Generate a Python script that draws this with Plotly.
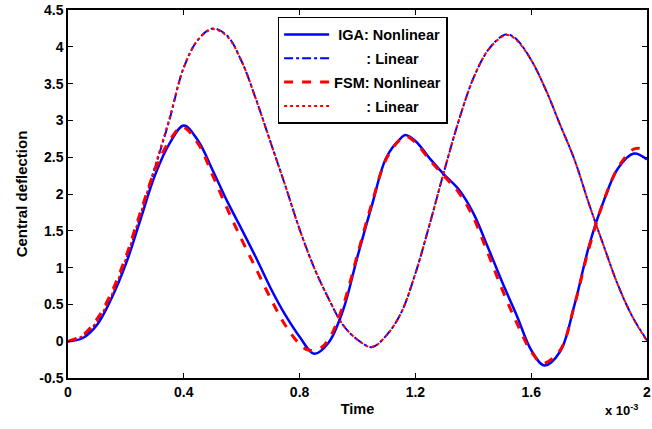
import plotly.graph_objects as go

# ---- data (time in units of 1e-3) ----
t_iga_nl = [0, 0.05, 0.10, 0.15, 0.20, 0.25, 0.30, 0.35, 0.40, 0.45, 0.50, 0.55, 0.60, 0.65, 0.70, 0.75,
            0.80, 0.85, 0.90, 0.95, 1.00, 1.05, 1.10, 1.15, 1.165, 1.20, 1.25, 1.30, 1.35, 1.40, 1.45, 1.50,
            1.55, 1.60, 1.645, 1.70, 1.75, 1.80, 1.85, 1.90, 1.955, 2.00]
y_iga_nl = [0, 0.04, 0.22, 0.58, 1.05, 1.65, 2.25, 2.68, 2.93, 2.72, 2.32, 1.90, 1.52, 1.13, 0.72, 0.36,
            0.06, -0.17, -0.02, 0.42, 1.15, 1.85, 2.50, 2.76, 2.80, 2.72, 2.48, 2.26, 2.06, 1.74, 1.28, 0.80,
            0.35, -0.12, -0.33, -0.14, 0.50, 1.30, 1.90, 2.35, 2.55, 2.47]

t_iga_lin = [0, 0.05, 0.10, 0.15, 0.20, 0.25, 0.30, 0.35, 0.40, 0.45, 0.50, 0.55, 0.60, 0.65, 0.70, 0.75,
             0.80, 0.85, 0.90, 0.95, 1.00, 1.05, 1.10, 1.15, 1.20, 1.25, 1.30, 1.35, 1.40, 1.45, 1.50, 1.52,
             1.55, 1.60, 1.65, 1.70, 1.75, 1.80, 1.85, 1.90, 1.95, 2.00]
y_iga_lin = [0, 0.06, 0.25, 0.60, 1.10, 1.70, 2.35, 3.00, 3.72, 4.10, 4.25, 4.15, 3.80, 3.28, 2.70, 2.12,
             1.52, 1.00, 0.58, 0.22, 0.02, -0.08, 0.08, 0.38, 0.92, 1.60, 2.32, 3.00, 3.57, 3.95, 4.15, 4.17,
             4.10, 3.82, 3.42, 2.94, 2.46, 1.86, 1.30, 0.76, 0.33, 0.01]

t_fsm_nl = [0, 0.05, 0.10, 0.15, 0.20, 0.25, 0.30, 0.35, 0.395, 0.45, 0.50, 0.55, 0.60, 0.65, 0.70, 0.75,
            0.80, 0.83, 0.87, 0.90, 0.95, 1.00, 1.05, 1.10, 1.15, 1.17, 1.20, 1.25, 1.30, 1.35, 1.40, 1.45,
            1.50, 1.55, 1.60, 1.64, 1.70, 1.75, 1.80, 1.85, 1.90, 1.95, 1.97, 2.00]
y_fsm_nl = [0, 0.08, 0.30, 0.66, 1.15, 1.75, 2.32, 2.72, 2.91, 2.68, 2.25, 1.80, 1.38, 0.98, 0.58, 0.22,
            -0.04, -0.12, -0.10, 0.02, 0.48, 1.18, 1.88, 2.48, 2.75, 2.78, 2.70, 2.46, 2.24, 2.02, 1.68, 1.20,
            0.70, 0.25, -0.14, -0.30, -0.12, 0.50, 1.27, 1.90, 2.36, 2.60, 2.62, 2.58]

t_fsm_lin = [0, 0.05, 0.10, 0.15, 0.20, 0.25, 0.30, 0.35, 0.40, 0.45, 0.50, 0.55, 0.60, 0.65, 0.70, 0.75,
             0.80, 0.85, 0.90, 0.95, 1.00, 1.05, 1.10, 1.15, 1.20, 1.25, 1.30, 1.35, 1.40, 1.45, 1.50, 1.52,
             1.55, 1.60, 1.65, 1.70, 1.75, 1.80, 1.85, 1.90, 1.95, 2.00]
y_fsm_lin = [0, 0.07, 0.27, 0.62, 1.12, 1.72, 2.37, 3.02, 3.72, 4.10, 4.24, 4.14, 3.80, 3.28, 2.70, 2.12,
             1.52, 1.00, 0.58, 0.22, 0.02, -0.08, 0.08, 0.38, 0.92, 1.60, 2.32, 3.00, 3.57, 3.95, 4.14, 4.16,
             4.09, 3.82, 3.42, 2.94, 2.46, 1.86, 1.30, 0.76, 0.33, 0.00]

x_tickvals = [0, 0.4, 0.8, 1.2, 1.6, 2]
x_ticktext = ["0", "0.4", "0.8", "1.2", "1.6", "2"]
y_tickvals = [-0.5, 0, 0.5, 1, 1.5, 2, 2.5, 3, 3.5, 4, 4.5]
y_ticktext = ["-0.5", "0", "0.5", "1", "1.5", "2", "2.5", "3", "3.5", "4", "4.5"]

NB = "\u00a0"
names = [NB + "IGA: Nonlinear", NB * 8 + ": Linear", "FSM: Nonlinear", NB * 8 + ": Linear"]

FONT = "Liberation Sans, Arial, sans-serif"

fig = go.Figure()
fig.add_trace(go.Scatter(x=t_iga_nl, y=y_iga_nl, mode="lines", name=names[0], line_shape="spline",
                         legendgroup="g1", line=dict(color="#0000ff", width=2.5, dash="solid")))
fig.add_trace(go.Scatter(x=t_iga_lin, y=y_iga_lin, mode="lines", name=names[1], line_shape="spline",
                         legendgroup="g2", line=dict(color="#0000ff", width=2, dash="dashdot")))
fig.add_trace(go.Scatter(x=t_fsm_nl, y=y_fsm_nl, mode="lines", name=names[2], line_shape="spline",
                         legendgroup="g3", line=dict(color="#ff0000", width=3, dash="dash")))
fig.add_trace(go.Scatter(x=t_fsm_lin, y=y_fsm_lin, mode="lines", name=names[3], line_shape="spline",
                         legendgroup="g4", line=dict(color="#ff0000", width=2, dash="dot")))

axis_common = dict(showgrid=False, zeroline=False, showline=True, linecolor="black", linewidth=1.5,
                   mirror="ticks", ticks="inside", ticklen=5, tickcolor="black", tickwidth=1,
                   tickfont=dict(family=FONT, size=14, color="black", weight="bold"))

fig.update_xaxes(range=[0, 2], tickvals=x_tickvals, ticktext=x_ticktext, ticklabeloverflow="allow",
                 title=dict(text="Time", font=dict(family=FONT, size=14.5, color="black", weight="bold"),
                            standoff=5),
                 **axis_common)
fig.update_yaxes(range=[-0.5, 4.5], tickvals=y_tickvals, ticktext=y_ticktext,
                 title=dict(text="Central deflection", font=dict(family=FONT, size=15, color="black", weight="bold"),
                            standoff=8),
                 **axis_common)

fig.add_annotation(text="x 10<sup>-3</sup>", xref="paper", yref="paper", x=0.988, y=-0.06,
                   xanchor="right", yanchor="top", showarrow=False,
                   font=dict(family=FONT, size=13, color="black", weight="bold"))

fig.update_layout(
    width=652, height=429,
    margin=dict(l=68, r=1, t=10, b=51),
    plot_bgcolor="white", paper_bgcolor="white",
    showlegend=True,
    legend=dict(x=0.362, y=0.981, xanchor="left", yanchor="top",
                bgcolor="white", bordercolor="black", borderwidth=1.5,
                font=dict(family=FONT, size=14.5, color="black", weight="bold"),
                tracegroupgap=2, itemwidth=45),
)

fig.write_html("out.html")
